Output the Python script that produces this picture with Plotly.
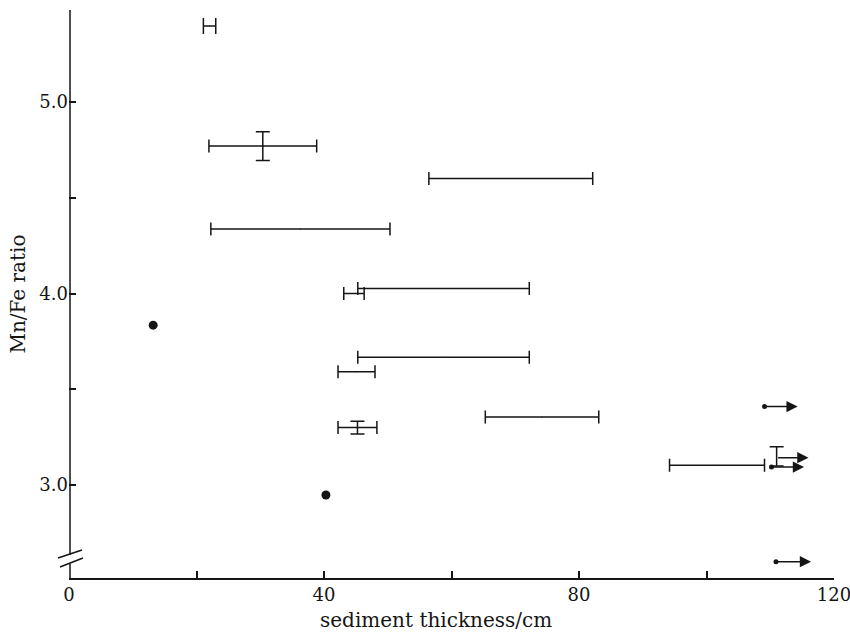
import plotly.graph_objects as go

# horizontal range bars (x centre, half-width, y)
bar_x = [30.4, 69.3, 36.3, 58.75, 44.7, 58.75, 45.1, 45.25, 74.2, 101.65]
bar_xerr = [8.45, 12.85, 14.05, 13.45, 1.6, 13.45, 2.9, 3.05, 8.9, 7.45]
bar_y = [4.77, 4.60, 4.337, 4.026, 4.00, 3.667, 3.592, 3.30, 3.355, 3.104]

# small "H"-like bar at top
h_x = [22.05]
h_xerr = [0.97]
h_y = [5.397]

# vertical error bars
v_x = [30.4, 45.25, 111.0]
v_y = [4.77, 3.30, 3.15]
v_yerr = [0.075, 0.033, 0.05]

# filled dots
dot_x = [13.2, 40.3]
dot_y = [3.835, 2.948]

# lower-bound points (with arrows)
lb_x = [109.1, 110.2, 110.9]
lb_y = [3.41, 3.094, 2.60]
arrow_tail_x = [109.1, 110.2, 111.0, 110.9]
arrow_tip_x = [114.3, 115.3, 116.0, 116.4]
arrow_y = [3.41, 3.094, 3.143, 2.60]

x_ticks = [0, 20, 40, 60, 80, 100, 120]
x_ticktext = ["0", "", "40", "", "80", "", "120"]
y_ticks = [3.0, 3.5, 4.0, 4.5, 5.0]
y_ticktext = ["3.0", "", "4.0", "", "5.0"]

INK = "#151515"
FONT = "DejaVu Serif"

fig = go.Figure()
fig.add_trace(go.Scatter(
    x=bar_x, y=bar_y, mode="markers",
    marker=dict(size=1, color=INK),
    error_x=dict(type="data", array=bar_xerr, visible=True, color=INK,
                 thickness=1.5, width=6.5),
    showlegend=False, hoverinfo="skip"))
fig.add_trace(go.Scatter(
    x=h_x, y=h_y, mode="markers",
    marker=dict(size=1, color=INK),
    error_x=dict(type="data", array=h_xerr, visible=True, color=INK,
                 thickness=1.5, width=8),
    showlegend=False, hoverinfo="skip"))
fig.add_trace(go.Scatter(
    x=v_x, y=v_y, mode="markers",
    marker=dict(size=1, color=INK),
    error_y=dict(type="data", array=v_yerr, visible=True, color=INK,
                 thickness=1.5, width=7),
    showlegend=False, hoverinfo="skip"))
fig.add_trace(go.Scatter(
    x=dot_x, y=dot_y, mode="markers",
    marker=dict(size=9, color=INK),
    showlegend=False, hoverinfo="skip"))
fig.add_trace(go.Scatter(
    x=lb_x, y=lb_y, mode="markers",
    marker=dict(size=5, color=INK),
    showlegend=False, hoverinfo="skip"))

for tx, hx, yy in zip(arrow_tail_x, arrow_tip_x, arrow_y):
    fig.add_annotation(x=hx, y=yy, ax=tx, ay=yy, xref="x", yref="y",
                       axref="x", ayref="y", text="", showarrow=True,
                       arrowhead=2, arrowsize=1.5, arrowwidth=1.5,
                       arrowcolor=INK, standoff=0)

# left axis line with break marks (paper coordinates)
L, R, T, B = 69, 834, 10, 578
def px(xp):
    return (xp - L) / (R - L)
def py(yp):
    return (B - yp) / (B - T)

shapes = [
    dict(type="line", xref="paper", yref="paper", x0=px(70), x1=px(70),
         y0=py(10), y1=py(555), line=dict(color=INK, width=1.5)),
    dict(type="line", xref="paper", yref="paper", x0=px(70), x1=px(70),
         y0=py(564), y1=py(578), line=dict(color=INK, width=1.5)),
    dict(type="line", xref="paper", yref="paper", x0=px(58), x1=px(82),
         y0=py(558), y1=py(550), line=dict(color=INK, width=1.5)),
    dict(type="line", xref="paper", yref="paper", x0=px(60), x1=px(83),
         y0=py(567), y1=py(558), line=dict(color=INK, width=1.5)),
]

# x-axis title as a text annotation (slightly left of plot centre, as in the original)
fig.add_annotation(text="sediment thickness/cm", xref="paper", yref="paper",
                   x=px(436), y=py(620), xanchor="center", yanchor="middle",
                   showarrow=False, font=dict(family=FONT, size=20, color=INK))

fig.update_layout(
    width=850, height=635,
    margin=dict(l=L, r=850 - R, t=T, b=635 - B),
    paper_bgcolor="white", plot_bgcolor="white",
    font=dict(family=FONT, size=18, color=INK),
    shapes=shapes,
    xaxis=dict(range=[0, 120], tickvals=x_ticks, ticktext=x_ticktext,
               ticks="inside", ticklen=7, tickwidth=1.5, tickcolor=INK,
               showline=True, linecolor=INK, linewidth=1.5,
               showgrid=False, zeroline=False, automargin=False,
               ticklabeloverflow="allow",
               tickfont=dict(size=18)),
    yaxis=dict(range=[2.515, 5.48], tickvals=y_ticks, ticktext=y_ticktext,
               ticks="inside", ticklen=7, tickwidth=1.5, tickcolor=INK,
               showline=False, showgrid=False, zeroline=False,
               automargin=False, ticklabeloverflow="allow",
               title=dict(text="Mn/Fe ratio", font=dict(size=20), standoff=8),
               tickfont=dict(size=18)),
)

fig.write_html("out.html")
